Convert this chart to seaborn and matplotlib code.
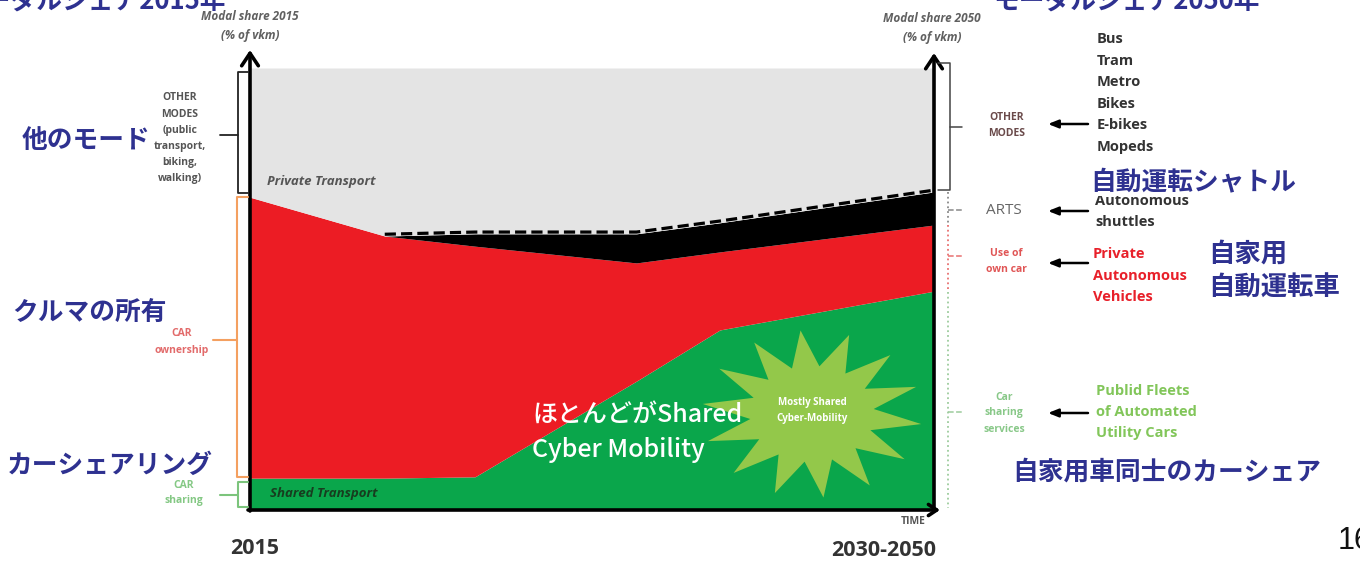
import numpy as np
import matplotlib
matplotlib.use("Agg")
import matplotlib.pyplot as plt
import seaborn as sns

# ---------------- data (modal share, % of vkm) ----------------
time_pos = [0.0, 0.197, 0.329, 0.565, 0.687, 1.0]
shared_transport = [7.0, 7.0, 7.3, 29.0, 40.6, 49.4]
car_ownership = [63.7, 54.9, 52.3, 26.8, 17.7, 15.0]
arts_shuttles = [0.0, 0.0, 2.8, 6.6, 6.6, 7.5]
other_modes = [29.3, 38.1, 37.6, 37.6, 35.1, 28.1]

period_labels = ["2015", "2030-2050"]
modes_2050 = ["Bus", "Tram", "Metro", "Bikes", "E-bikes", "Mopeds"]
arts_text = ["Autonomous", "shuttles"]
pav_text = ["Private", "Autonomous", "Vehicles"]
fleet_text = ["Publid Fleets", "of Automated", "Utility Cars"]

# ---------------- style ----------------
sns.set_theme(style="white")
JP = ["Noto Sans CJK JP", "DejaVu Sans"]
EN = ["Open Sans", "DejaVu Sans"]
plt.rcParams["font.family"] = JP

C_GREEN = "#0aa64b"
C_RED = "#ec1c24"
C_BLACK = "#000000"
C_GRAY = "#e4e4e4"
C_STAR = "#93c84a"
NAVY = "#2e3190"

fig = plt.figure(figsize=(13.6, 5.64), dpi=100)
W, H = 1360, 564

# chart axes (left x=250..934, y=509..68 in pixels)
ax = fig.add_axes([250 / W, (H - 509) / H, 684 / W, 441 / H])
ax.stackplot(time_pos, shared_transport, car_ownership, arts_shuttles, other_modes,
             colors=[C_GREEN, C_RED, C_BLACK, C_GRAY], linewidth=0)
ax.set_xlim(0, 1)
ax.set_ylim(0, 100)
ax.axis("off")

arts_top = np.array(shared_transport) + np.array(car_ownership) + np.array(arts_shuttles)
sns.lineplot(x=time_pos[1:], y=arts_top[1:] + 0.4, ax=ax, color="black", linewidth=2.3,
             linestyle=(0, (3.5, 1.6)), estimator=None, sort=False)

# overlay axes in pixel coordinates for annotations
ov = fig.add_axes([0, 0, 1, 1], zorder=5)
ov.set_xlim(0, W)
ov.set_ylim(H, 0)
ov.axis("off")
ov.patch.set_alpha(0)


def T(x, y, s, size, color, weight="normal", style="normal", ha="center",
      va="center", family=EN, z=6, **kw):
    ov.text(x, y, s, fontsize=size, color=color, fontweight=weight, fontstyle=style,
            ha=ha, va=va, family=family, zorder=z, **kw)


# star
n = 14
ang = np.linspace(0, 2 * np.pi, 2 * n, endpoint=False) + 0.12
rad_x = np.where(np.arange(2 * n) % 2 == 0, 110, 62)
rad_y = np.where(np.arange(2 * n) % 2 == 0, 84, 48)
sx = 812 + rad_x * np.cos(ang)
sy = 414 + rad_y * np.sin(ang)
ov.fill(sx, sy, color=C_STAR, zorder=3, linewidth=0)
T(812, 402, "Mostly Shared", 7, "white", weight="bold")
T(812, 418, "Cyber-Mobility", 7, "white", weight="bold")

# axes arrows
arrow = dict(arrowstyle="->,head_length=0.45,head_width=0.3", lw=2.6, color="black",
             shrinkA=0, shrinkB=0, mutation_scale=20)
ov.annotate("", xy=(250, 50), xytext=(250, 511), arrowprops=arrow)
ov.annotate("", xy=(934, 53), xytext=(934, 511), arrowprops=arrow)
ov.annotate("", xy=(940, 510), xytext=(248, 510),
            arrowprops=dict(arrowstyle="->,head_length=0.3,head_width=0.2", lw=2.6,
                            color="black", shrinkA=0, shrinkB=0, mutation_scale=20))

# chart inner labels
T(267, 182, "Private Transport", 9.5, "#555555", weight="bold", style="italic", ha="left")
T(270, 494, "Shared Transport", 9.5, "#173d1f", weight="bold", style="italic", ha="left")
T(532, 415, "ほとんどがShared", 18, "white", weight="medium", ha="left", family=JP)
T(532, 450, "Cyber Mobility", 18, "white", weight="medium", ha="left", family=JP)
T(913, 522, "TIME", 7.5, "#555555", weight="bold")

# bottom labels
T(255, 548, period_labels[0], 15.5, "#333333", weight="bold")
T(884, 550, period_labels[1], 15.5, "#333333", weight="bold")

# top labels
T(250, 17, "Modal share 2015", 8.5, "#606060", weight="bold", style="italic")
T(250, 36, "(% of vkm)", 8.5, "#606060", weight="bold", style="italic")
T(932, 18, "Modal share 2050", 8.5, "#606060", weight="bold", style="italic")
T(932, 38, "(% of vkm)", 8.5, "#606060", weight="bold", style="italic")
T(226, 1, "モーダルシェア2015年", 18.5, NAVY, weight="bold", ha="right", family=JP)
T(993, 1, "モーダルシェア2050年", 18.5, NAVY, weight="bold", ha="left", family=JP)

# left brackets
ov.plot([248, 238, 238, 248], [72, 72, 193, 193], color="#222222", lw=1.3, zorder=4)
ov.plot([220, 238], [135, 135], color="#222222", lw=1.3, zorder=4)
ov.plot([248, 237, 237, 248], [197, 197, 477, 477], color="#f4a060", lw=1.5, zorder=4)
ov.plot([213, 237], [340, 340], color="#f4a060", lw=1.5, zorder=4)
ov.plot([248, 238, 238, 248], [482, 482, 507, 507], color="#7cc47c", lw=1.5, zorder=4)
ov.plot([220, 238], [495, 495], color="#7cc47c", lw=1.5, zorder=4)

left_other = ["OTHER", "MODES", "(public", "transport,", "biking,", "walking)"]
for i, s in enumerate(left_other):
    T(180, 98 + i * 16.2, s, 7.5, "#555555", weight="bold")
T(182, 333, "CAR", 7.5, "#e26a6a", weight="bold")
T(182, 350, "ownership", 7.5, "#e26a6a", weight="bold")
T(184, 485, "CAR", 7.5, "#84c884", weight="bold")
T(184, 501, "sharing", 7.5, "#84c884", weight="bold")

T(22, 140, "他のモード", 18.5, NAVY, weight="bold", ha="left", family=JP, z=7)
T(12, 312, "クルマの所有", 18.5, NAVY, weight="bold", ha="left", family=JP, z=7)
T(7, 465, "カーシェアリング", 18.5, NAVY, weight="bold", ha="left", family=JP, z=7)

# right brackets
ov.plot([938, 950, 950, 938], [63, 63, 190, 190], color="#444444", lw=1.1, zorder=4)
ov.plot([950, 962], [127, 127], color="#444444", lw=1.1, zorder=4)
ov.plot([948, 948], [192, 225], color="#888888", lw=1.3, ls=":", zorder=4)
ov.plot([948, 962], [210, 210], color="#888888", lw=1.1, ls="--", zorder=4)
ov.plot([948, 948], [225, 290], color="#e87070", lw=1.3, ls=":", zorder=4)
ov.plot([948, 962], [256, 256], color="#e87070", lw=1.1, ls="--", zorder=4)
ov.plot([948, 948], [292, 508], color="#9ccc9c", lw=1.3, ls=":", zorder=4)
ov.plot([948, 962], [412, 412], color="#9ccc9c", lw=1.1, ls="--", zorder=4)

for yy in [124, 211, 263, 413]:
    ov.annotate("", xy=(1048, yy), xytext=(1088, yy),
                arrowprops=dict(arrowstyle="-|>,head_length=0.5,head_width=0.2", lw=1.8,
                                color="black", shrinkA=0, shrinkB=0, mutation_scale=12))

T(1007, 118, "OTHER", 7.5, "#6a4a4a", weight="bold")
T(1007, 133, "MODES", 7.5, "#6a4a4a", weight="bold")
T(1004, 211, "ARTS", 11, "#666666")
T(1006, 253, "Use of", 7.5, "#e05555", weight="bold")
T(1006, 269, "own car", 7.5, "#e05555", weight="bold")
T(1004, 397, "Car", 7.5, "#88c888", weight="bold")
T(1004, 413, "sharing", 7.5, "#88c888", weight="bold")
T(1004, 429, "services", 7.5, "#88c888", weight="bold")

for i, s in enumerate(modes_2050):
    T(1097, 39 + i * 21.6, s, 10.5, "#333333", weight="bold", ha="left")
for i, s in enumerate(arts_text):
    T(1095, 201 + i * 21.5, s, 10.5, "#333333", weight="bold", ha="left")
for i, s in enumerate(pav_text):
    T(1093, 254 + i * 21.5, s, 10.5, "#e8202a", weight="bold", ha="left")
for i, s in enumerate(fleet_text):
    T(1096, 391 + i * 21.0, s, 10.5, "#82c65a", weight="bold", ha="left")

T(1090, 182, "自動運転シャトル", 18.5, NAVY, weight="bold", ha="left", family=JP, z=8,
  bbox=dict(facecolor="white", edgecolor="none", pad=0.5))
T(1208, 254, "自家用", 19, NAVY, weight="bold", ha="left", family=JP, z=8)
T(1208, 288, "自動運転車", 19, NAVY, weight="bold", ha="left", family=JP, z=8)
T(1012, 472, "自家用車同士のカーシェア", 18.5, NAVY, weight="bold", ha="left", family=JP, z=8)

T(1338, 541, "16", 22, "#111111", ha="left", family=["Liberation Sans", "DejaVu Sans"])

fig.savefig("out.png", dpi=100)
